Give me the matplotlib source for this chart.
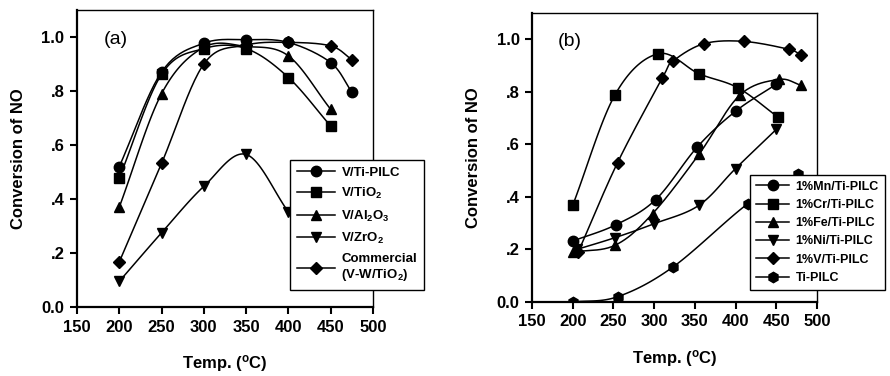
import numpy as np
import matplotlib
matplotlib.use('Agg')
import matplotlib.pyplot as plt

plt.rcParams['font.family'] = ['Liberation Sans', 'DejaVu Sans']
plt.rcParams['font.weight'] = 'bold'
plt.rcParams['mathtext.fontset'] = 'custom'
plt.rcParams['mathtext.rm'] = 'Liberation Sans:bold'
plt.rcParams['mathtext.bf'] = 'Liberation Sans:bold'
plt.rcParams['mathtext.default'] = 'rm'

# panel (a)
temp_ti_pilc = [200, 250, 300, 350, 400, 450, 475]
v_ti_pilc = [0.52, 0.87, 0.977, 0.99, 0.98, 0.905, 0.795]
temp_tio2 = [200, 250, 300, 350, 400, 450]
v_tio2 = [0.478, 0.862, 0.957, 0.957, 0.85, 0.67]
temp_al2o3 = [200, 250, 300, 350, 400, 450]
v_al2o3 = [0.37, 0.79, 0.962, 0.965, 0.93, 0.732]
temp_zro2 = [200, 250, 300, 350, 400]
v_zro2 = [0.095, 0.275, 0.447, 0.565, 0.352]
temp_comm = [200, 250, 300, 350, 400, 450, 475]
v_comm = [0.167, 0.532, 0.90, 0.97, 0.98, 0.967, 0.916]

# panel (b)
temp_mn = [200, 253, 302, 353, 400, 450]
mn = [0.232, 0.294, 0.39, 0.59, 0.726, 0.829]
temp_cr = [200, 252, 305, 355, 403, 452]
cr = [0.368, 0.789, 0.945, 0.869, 0.815, 0.704]
temp_fe = [200, 252, 298, 355, 405, 453, 480]
fe = [0.19, 0.216, 0.336, 0.562, 0.787, 0.847, 0.825]
temp_ni = [205, 252, 300, 355, 400, 450]
ni = [0.20, 0.245, 0.298, 0.368, 0.508, 0.657]
temp_v = [207, 255, 310, 323, 361, 410, 465, 480]
v1 = [0.192, 0.53, 0.852, 0.916, 0.983, 0.992, 0.962, 0.94]
temp_ti = [200, 255, 323, 415, 477]
ti = [0.0, 0.02, 0.133, 0.374, 0.489]


def smooth(x, y, n=24):
    # Catmull-Rom curve through the points, only for drawing the line
    p = np.column_stack([x, y]).astype(float)
    p = np.vstack([2 * p[0] - p[1], p, 2 * p[-1] - p[-2]])
    out = []
    t = np.linspace(0, 1, n)[:, None]
    for i in range(1, len(p) - 2):
        p0, p1, p2, p3 = p[i - 1], p[i], p[i + 1], p[i + 2]
        seg = 0.5 * ((2 * p1) + (-p0 + p2) * t + (2 * p0 - 5 * p1 + 4 * p2 - p3) * t ** 2
                     + (-p0 + 3 * p1 - 3 * p2 + p3) * t ** 3)
        out.append(seg)
    out = np.vstack(out)
    return out[:, 0], out[:, 1]


def draw(ax, x, y, marker, label, ms=7.5):
    sx, sy = smooth(x, y)
    ax.plot(sx, sy, color='black', lw=1.1)
    ax.plot(x, y, ls='none', marker=marker, color='black', ms=ms)
    # proxy for legend (line + marker)
    ax.plot([], [], color='black', lw=1.1, marker=marker, ms=ms, label=label)


def style_axes(ax):
    ax.set_xlim(150, 500)
    ax.set_ylim(0, 1.1)
    ax.set_xticks([150, 200, 250, 300, 350, 400, 450, 500])
    ax.set_yticks([0, 0.2, 0.4, 0.6, 0.8, 1.0])
    ax.set_yticklabels(['0.0', '.2', '.4', '.6', '.8', '1.0'])
    ax.spines['left'].set_linewidth(1.6)
    ax.spines['bottom'].set_linewidth(1.6)
    ax.spines['top'].set_linewidth(1.0)
    ax.spines['right'].set_linewidth(1.0)
    ax.tick_params(direction='out', length=5, width=1.5, labelsize=12, pad=4)
    for lab in ax.get_xticklabels() + ax.get_yticklabels():
        lab.set_fontweight('bold')
    ax.set_xlabel('Temp. ($^o$C)', fontsize=12, fontweight='bold', labelpad=13)
    ax.set_ylabel('Conversion of NO', fontsize=12, fontweight='bold', labelpad=11)


fig = plt.figure(figsize=(8.9, 3.76), dpi=100)
W, H = 890, 376
ax1 = fig.add_axes([77 / W, 1 - 307 / H, 296 / W, 297 / H])
ax2 = fig.add_axes([532 / W, 1 - 302 / H, 285 / W, 289 / H])

draw(ax1, temp_ti_pilc, v_ti_pilc, 'o', 'V/Ti-PILC')
draw(ax1, temp_tio2, v_tio2, 's', 'V/TiO$_2$')
draw(ax1, temp_al2o3, v_al2o3, '^', 'V/Al$_2$O$_3$')
draw(ax1, temp_zro2, v_zro2, 'v', 'V/ZrO$_2$')
draw(ax1, temp_comm, v_comm, 'D', 'Commercial\n(V-W/TiO$_2$)', ms=6.5)
style_axes(ax1)
ax1.text(0.09, 0.93, '(a)', transform=ax1.transAxes, fontsize=14,
         fontweight='normal', va='top')
leg1 = ax1.legend(loc='upper left', bbox_to_anchor=(290 / W, 1 - 160 / H),
                  bbox_transform=fig.transFigure, frameon=True, fancybox=False,
                  framealpha=1, edgecolor='black', prop={'weight': 'bold', 'size': 9.5},
                  handlelength=2.9, labelspacing=0.55, borderpad=0.5,
                  handletextpad=0.5, borderaxespad=0)
leg1.get_frame().set_linewidth(1.0)
leg1.set_zorder(5)

draw(ax2, temp_mn, mn, 'o', '1%Mn/Ti-PILC')
draw(ax2, temp_cr, cr, 's', '1%Cr/Ti-PILC')
draw(ax2, temp_fe, fe, '^', '1%Fe/Ti-PILC')
draw(ax2, temp_ni, ni, 'v', '1%Ni/Ti-PILC')
draw(ax2, temp_v, v1, 'D', '1%V/Ti-PILC', ms=6.5)
draw(ax2, temp_ti, ti, 'h', 'Ti-PILC')
style_axes(ax2)
ax2.text(0.09, 0.93, '(b)', transform=ax2.transAxes, fontsize=14,
         fontweight='normal', va='top')
leg2 = ax2.legend(loc='upper left', bbox_to_anchor=(750 / W, 1 - 175 / H),
                  bbox_transform=fig.transFigure, frameon=True, fancybox=False,
                  framealpha=1, edgecolor='black', prop={'weight': 'bold', 'size': 9},
                  handlelength=2.7, labelspacing=0.5, borderpad=0.45,
                  handletextpad=0.5, borderaxespad=0)
leg2.get_frame().set_linewidth(1.0)
leg2.set_zorder(5)

fig.savefig('out.png', dpi=100)
